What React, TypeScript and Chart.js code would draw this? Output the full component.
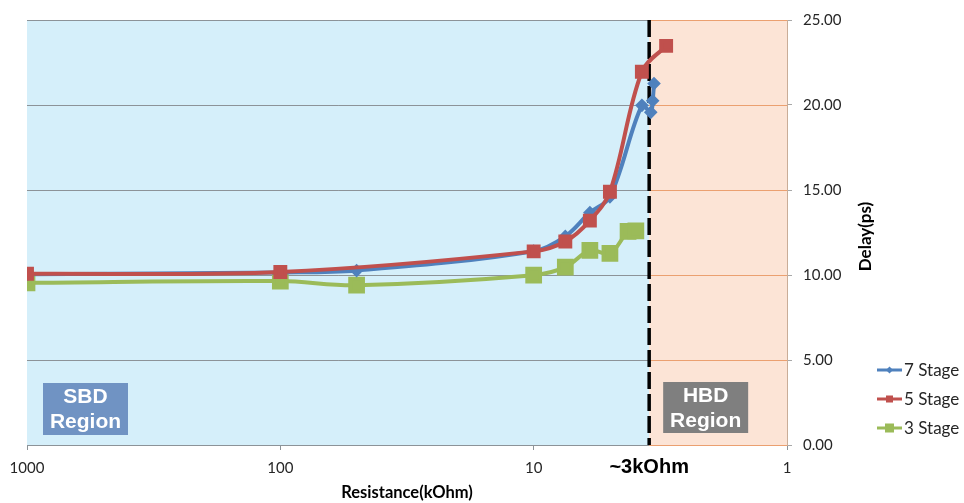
import React, { useEffect, useRef } from "react";
import { Chart, registerables } from "chart.js";

Chart.register(...registerables);

const xTickValues = [1, 10, 100, 1000];
const yTickValues = [0, 5, 10, 15, 20, 25];
const boundaryResistance = 3.5;

const resistance7 = [1000, 100, 50, 10, 7.5, 6, 5, 3.74, 3.45, 3.39, 3.35];
const delay7 = [10.05, 10.15, 10.26, 11.4, 12.27, 13.67, 14.6, 19.98, 19.57, 20.25, 21.26];

const resistance5 = [1000, 100, 10, 7.5, 6, 5, 3.74, 3.0];
const delay5 = [10.07, 10.18, 11.39, 11.97, 13.2, 14.9, 21.96, 23.48];

const resistance3 = [1000, 100, 50, 10, 7.5, 6, 5, 4.24, 3.95];
const delay3 = [9.54, 9.64, 9.4, 9.99, 10.46, 11.45, 11.27, 12.56, 12.6];

const seriesLabels = ["7 Stage", "5 Stage", "3 Stage"];
const seriesColors = ["#4F81BD", "#C0504D", "#9BBB59"];

const toPoints = (xs: number[], ys: number[]) => xs.map((x, i) => ({ x, y: ys[i] }));

const W = 964;
const H = 503;

const overlayPlugin = {
  id: "overlay",
  beforeDraw(chart: any) {
    const { ctx, chartArea, scales } = chart;
    const { left, right, top, bottom } = chartArea;
    const bx = scales.x.getPixelForValue(boundaryResistance);
    ctx.save();
    ctx.fillStyle = "#ffffff";
    ctx.fillRect(0, 0, chart.width, chart.height);
    ctx.fillStyle = "#D5EFFA";
    ctx.fillRect(left, top, bx - left, bottom - top);
    ctx.fillStyle = "#FCE4D6";
    ctx.fillRect(bx, top, right - bx, bottom - top);
    ctx.restore();
  },
  beforeDatasetsDraw(chart: any) {
    const { ctx, chartArea, scales } = chart;
    const { left, right, top, bottom } = chartArea;
    const bx = scales.x.getPixelForValue(boundaryResistance);
    ctx.save();
    ctx.lineWidth = 1;
    yTickValues.forEach((v) => {
      const py = Math.round(scales.y.getPixelForValue(v)) + 0.5;
      ctx.strokeStyle = "#8C9398";
      ctx.beginPath();
      ctx.moveTo(left, py);
      ctx.lineTo(bx, py);
      ctx.stroke();
      ctx.strokeStyle = "#EBA070";
      ctx.beginPath();
      ctx.moveTo(bx, py);
      ctx.lineTo(right, py);
      ctx.stroke();
    });
    ctx.strokeStyle = "#000000";
    ctx.lineWidth = 3.5;
    ctx.setLineDash([17, 5]);
    ctx.beginPath();
    ctx.moveTo(bx, top);
    ctx.lineTo(bx, bottom);
    ctx.stroke();
    ctx.restore();
  },
  afterDraw(chart: any) {
    const { ctx, chartArea, scales } = chart;
    const { left, right, top, bottom } = chartArea;
    const bx = scales.x.getPixelForValue(boundaryResistance);
    ctx.save();

    const drawBox = (x: number, y: number, w: number, h: number, color: string, lines: string[]) => {
      ctx.fillStyle = color;
      ctx.fillRect(x, y, w, h);
      ctx.fillStyle = "#ffffff";
      ctx.font = "bold 21px 'Liberation Sans', Arial, sans-serif";
      ctx.textAlign = "center";
      ctx.textBaseline = "middle";
      ctx.fillText(lines[0], x + w / 2, y + 14);
      ctx.fillText(lines[1], x + w / 2, y + 39);
    };
    drawBox(left + 16, bottom - 62, 85, 52, "#7093C3", ["SBD", "Region"]);
    drawBox(bx + 14, bottom - 63, 85, 51, "#7F7F7F", ["HBD", "Region"]);

    ctx.fillStyle = "#000000";
    ctx.font = "bold 20px 'Liberation Sans', Arial, sans-serif";
    ctx.textAlign = "center";
    ctx.textBaseline = "middle";
    ctx.fillText("~3kOhm", bx, bottom + 22);

    ctx.font = "bold 16.5px Lato, sans-serif";
    ctx.fillText("Resistance(kOhm)", (left + right) / 2, bottom + 48);

    ctx.save();
    ctx.translate(right + 79, (top + bottom) / 2 + 4);
    ctx.rotate(-Math.PI / 2);
    ctx.font = "bold 17px Lato, sans-serif";
    ctx.fillText("Delay(ps)", 0, 0);
    ctx.restore();

    const legendX = 877;
    const legendY = [370, 399, 428];
    chart.data.datasets.forEach((ds: any, i: number) => {
      const y = legendY[i];
      ctx.strokeStyle = ds.borderColor;
      ctx.lineWidth = 3;
      ctx.beginPath();
      ctx.moveTo(legendX, y);
      ctx.lineTo(legendX + 25, y);
      ctx.stroke();
      ctx.fillStyle = ds.borderColor;
      const cx = legendX + 12.5;
      if (ds.pointStyle === "rectRot") {
        ctx.beginPath();
        ctx.moveTo(cx, y - 3.5);
        ctx.lineTo(cx + 3.5, y);
        ctx.lineTo(cx, y + 3.5);
        ctx.lineTo(cx - 3.5, y);
        ctx.closePath();
        ctx.fill();
      } else {
        const s = i === 2 ? 9 : 7;
        ctx.fillRect(cx - s / 2, y - s / 2, s, s);
      }
      ctx.fillStyle = "#262626";
      ctx.font = "17px Lato, sans-serif";
      ctx.textAlign = "left";
      ctx.textBaseline = "middle";
      ctx.fillText(ds.label, legendX + 27, y + 1);
    });

    ctx.restore();
  },
};

export default function App() {
  const ref = useRef<HTMLCanvasElement | null>(null);

  useEffect(() => {
    document.body.style.margin = "0";
    const canvas = ref.current;
    if (!canvas) return;
    const chart = new Chart(canvas, {
      type: "line",
      data: {
        datasets: [
          {
            label: seriesLabels[0],
            data: toPoints(resistance7, delay7),
            borderColor: seriesColors[0],
            backgroundColor: seriesColors[0],
            borderWidth: 4,
            pointStyle: "rectRot",
            pointRadius: 4,
            pointHoverRadius: 4,
            tension: 0.35,
            order: 1,
          },
          {
            label: seriesLabels[1],
            data: toPoints(resistance5, delay5),
            borderColor: seriesColors[1],
            backgroundColor: seriesColors[1],
            borderWidth: 4,
            pointStyle: "rect",
            pointRadius: 7,
            pointHoverRadius: 7,
            tension: 0.35,
            order: 0,
          },
          {
            label: seriesLabels[2],
            data: toPoints(resistance3, delay3),
            borderColor: seriesColors[2],
            backgroundColor: seriesColors[2],
            borderWidth: 4,
            pointStyle: "rect",
            pointRadius: 9,
            pointHoverRadius: 9,
            tension: 0.35,
            order: 2,
          },
        ] as any,
      },
      options: {
        responsive: false,
        animation: false,
        layout: { padding: { left: 27, top: 17, right: 0, bottom: 0 } },
        plugins: { legend: { display: false }, tooltip: { enabled: false } },
        font: { family: "Lato" } as any,
        scales: {
          x: {
            type: "logarithmic",
            position: "bottom",
            reverse: true,
            min: 1,
            max: 1000,
            afterBuildTicks: (axis: any) => {
              axis.ticks = xTickValues.map((v) => ({ value: v }));
            },
            afterFit: (scale: any) => {
              scale.height = 58;
            },
            grid: {
              drawOnChartArea: false,
              drawTicks: true,
              tickLength: 5,
              color: "#8C9398",
            },
            border: { display: true, color: "#8C9398" },
            ticks: {
              autoSkip: false,
              maxRotation: 0,
              padding: 9,
              color: "#262626",
              font: { family: "Lato", size: 15 },
              callback: (v: any) => String(v),
            },
          },
          y: {
            type: "linear",
            position: "right",
            min: 0,
            max: 25,
            afterBuildTicks: (axis: any) => {
              axis.ticks = yTickValues.map((v) => ({ value: v }));
            },
            afterFit: (scale: any) => {
              scale.width = W - 787;
            },
            grid: {
              drawOnChartArea: false,
              drawTicks: true,
              tickLength: 5,
              color: "#A8A8A8",
            },
            border: { display: true, color: "#C9AD98" },
            ticks: {
              padding: 11,
              color: "#262626",
              font: { family: "Lato", size: 15 },
              callback: (v: any) => Number(v).toFixed(2),
            },
          },
        },
      } as any,
      plugins: [overlayPlugin],
    });
    return () => chart.destroy();
  }, []);

  return <canvas ref={ref} width={W} height={H} style={{ display: "block", width: W, height: H }} />;
}
